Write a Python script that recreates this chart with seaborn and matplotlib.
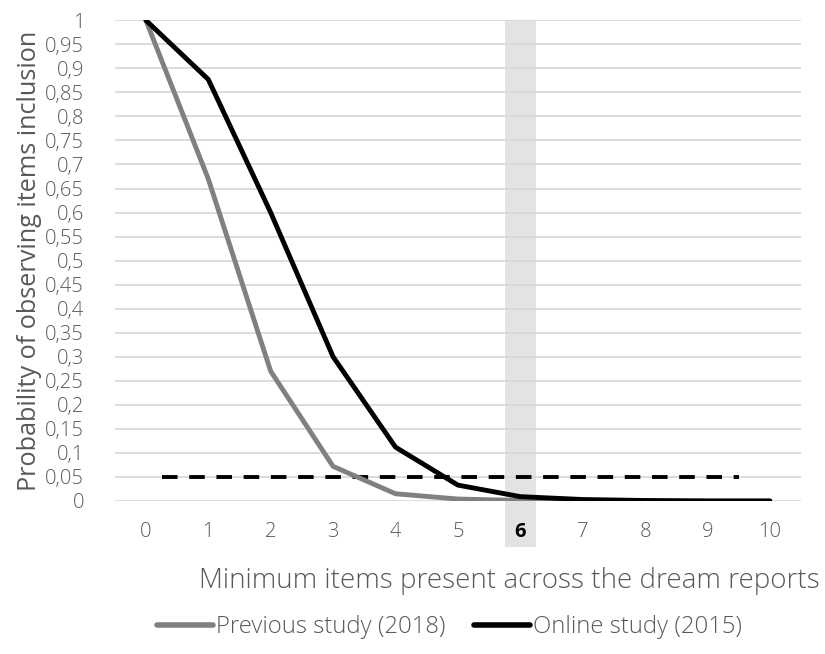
import pandas as pd
import matplotlib.pyplot as plt
import matplotlib.transforms as mtransforms
from matplotlib.patches import Rectangle
from matplotlib.lines import Line2D
import seaborn as sns

# ==========================================
# Data
# ==========================================
min_items = [0, 1, 2, 3, 4, 5, 6, 7, 8, 9, 10]
previous_2018 = [1.0, 0.67, 0.27, 0.072, 0.015, 0.004, 0.001, 0.0, 0.0, 0.0, 0.0]
online_2015 = [1.0, 0.877, 0.6, 0.3, 0.112, 0.033, 0.009, 0.003, 0.001, 0.0, 0.0]
series_names = ["Previous study (2018)", "Online study (2015)"]
threshold_y = 0.05
threshold_x = [0.26, 9.5]
highlight_item = 6
y_ticks = [i * 0.05 for i in range(21)]

df = pd.DataFrame({
    "items": min_items * 2,
    "prob": previous_2018 + online_2015,
    "study": [series_names[0]] * len(min_items) + [series_names[1]] * len(min_items),
})

# ==========================================
# Style
# ==========================================
sns.set_theme(style="white")
plt.rcParams['font.family'] = ['Open Sans', 'DejaVu Sans']
plt.rcParams['font.weight'] = 'light'
text_grey = "#595959"

fig = plt.figure(figsize=(8.25, 6.54), dpi=100)
ax = fig.add_axes([0.139, 0.234, 0.832, 0.735])

# grey band behind highlighted category (runs down past the tick labels)
trans = mtransforms.blended_transform_factory(ax.transData, ax.transAxes)
ax.add_patch(Rectangle((highlight_item - 0.25, -0.096), 0.5, 1.096, transform=trans,
                       facecolor="#e3e3e3", edgecolor="none", clip_on=False, zorder=0))

for yt in y_ticks:
    ax.axhline(yt, color="#d9d9d9", linewidth=1.3, zorder=1)

ax.hlines(threshold_y, threshold_x[0], threshold_x[1], colors="black",
          linestyles=(0, (4, 3)), linewidth=2.8, zorder=2)

sns.lineplot(data=df, x="items", y="prob", hue="study",
             palette={series_names[0]: "#808080", series_names[1]: "black"},
             linewidth=3.5, ax=ax, zorder=3, legend=False)

ax.set_xlim(-0.5, 10.5)
ax.set_ylim(0, 1)
ax.set_xticks(min_items)
ax.set_xticklabels([str(v) for v in min_items])
ax.set_yticks(y_ticks)
ax.set_yticklabels(["0" if v == 0 else ("1" if v == 1 else f"{v:.2f}".rstrip("0").replace(".", ","))
                    for v in y_ticks])
ax.tick_params(axis="both", length=0, labelsize=14.5, colors=text_grey)
ax.tick_params(axis="x", pad=15)
ax.tick_params(axis="y", pad=22)
for lbl in ax.get_xticklabels():
    if lbl.get_text() == str(highlight_item):
        lbl.set_color("black")
        lbl.set_fontweight("bold")
for s in ax.spines.values():
    s.set_visible(False)

ax.set_ylabel("Probability of observing items inclusion", fontsize=18.2, color=text_grey, labelpad=2)
ax.set_xlabel("")
fig.text(0.994, 0.112, "Minimum items present across the dream reports",
         ha="right", va="center", fontsize=20, color=text_grey)

handles = [Line2D([], [], color="#808080", linewidth=4),
           Line2D([], [], color="black", linewidth=4)]
fig.legend(handles, series_names, loc="center", bbox_to_anchor=(0.545, 0.041),
           ncol=2, frameon=False, fontsize=17.2, handlelength=2.35, handletextpad=0.12,
           columnspacing=1.2, labelcolor=text_grey)

fig.savefig("out.png", dpi=100)
